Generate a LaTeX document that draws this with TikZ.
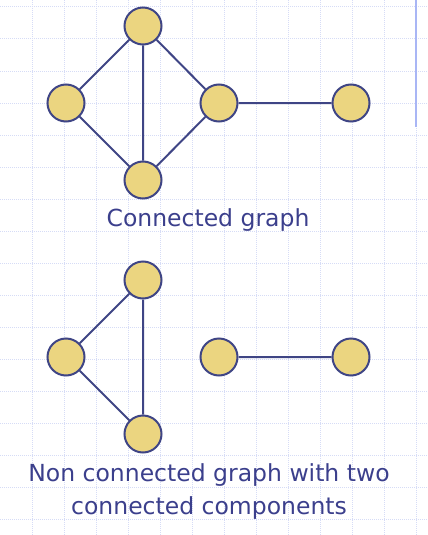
\documentclass[tikz,border=0pt]{standalone}
\usepackage{fontspec}
\setmainfont{DejaVu Sans}
\definecolor{edgeblue}{HTML}{3F4585}
\definecolor{nodefill}{HTML}{EBD580}
\definecolor{textblue}{HTML}{3B3F8C}
\definecolor{gridblue}{HTML}{D6DCF6}
\definecolor{barblue}{HTML}{A9B6F5}
\begin{document}
\begin{tikzpicture}[x=1pt,y=-1pt,
  vtx/.style={circle,draw=edgeblue,fill=nodefill,line width=2pt,minimum size=37pt,inner sep=0pt},
  edge/.style={draw=edgeblue,line width=2pt},
  caption/.style={text=textblue,font=\fontsize{23.5}{33}\selectfont,align=center,inner sep=0pt},
  gridline/.style={gridblue,line width=1pt,dash pattern=on 1pt off 1pt}]
\useasboundingbox (0,0) rectangle (428,535);
\foreach \x in {32,64,...,416} \draw[gridline] (\x,0) -- (\x,535);
\foreach \y in {7,39,...,535} \draw[gridline] (0,\y) -- (428,\y);
\coordinate (bt) at (416,0);
\coordinate (bb) at (416,127);
\draw[barblue,line width=1.8pt] (bt) -- (bb);
% connected graph
\node[vtx] (a) at (143,26) {};
\node[vtx] (b) at (66,103) {};
\node[vtx] (c) at (219,103) {};
\node[vtx] (d) at (351,103) {};
\node[vtx] (e) at (143,180) {};
\draw[edge] (a) -- (b) (a) -- (c) (a) -- (e) (b) -- (e) (c) -- (e) (c) -- (d);
\node[caption] (t1) at (208,220) {Connected graph};
% non connected graph
\node[vtx] (f) at (143,280) {};
\node[vtx] (g) at (66,357) {};
\node[vtx] (h) at (143,434) {};
\node[vtx] (i) at (219,357) {};
\node[vtx] (j) at (351,357) {};
\draw[edge] (f) -- (g) (f) -- (h) (g) -- (h) (i) -- (j);
\node[caption] (t2) at (209,492) {Non connected graph with two\\connected components};
\end{tikzpicture}
\end{document}
